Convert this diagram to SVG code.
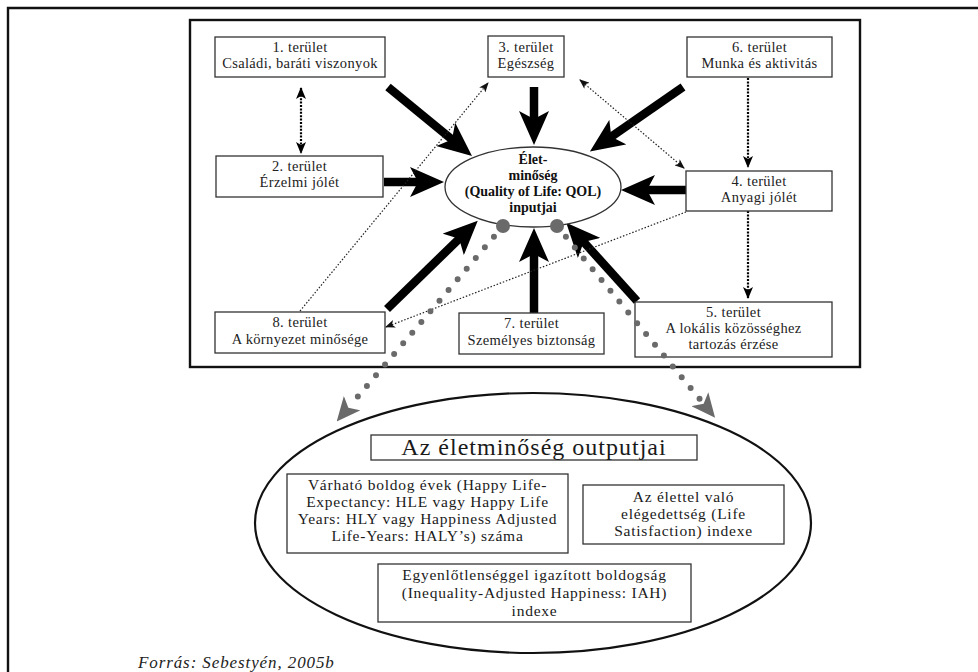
<svg xmlns="http://www.w3.org/2000/svg" width="978" height="672" viewBox="0 0 978 672">
<defs>
<style>
.frame{fill:none;stroke:#111;stroke-width:2.4}
.box{fill:#fff;stroke:#333;stroke-width:1.3}
.t{font-family:"Liberation Serif",serif;font-size:14.5px;fill:#222;text-anchor:middle;letter-spacing:0.35px}
.tb{font-family:"Liberation Serif",serif;font-size:14px;font-weight:bold;fill:#111;text-anchor:middle}
.o{font-family:"Liberation Serif",serif;font-size:15.5px;fill:#1a1a1a;text-anchor:middle;letter-spacing:0.75px}
.thick{stroke:#000;stroke-width:8.5;fill:none;marker-end:url(#mThick)}
.vdot{stroke:#000;stroke-width:2.2;stroke-dasharray:2 1.4;fill:none}
.tdot{stroke:#222;stroke-width:1.2;stroke-dasharray:1.5 1.8;fill:none}
.gdot{stroke:#6a6a6a;stroke-width:6;stroke-dasharray:0 14;stroke-linecap:round;fill:none;marker-end:url(#mGray)}
</style>
<marker id="mThick" viewBox="0 0 34 30" refX="12" refY="15" markerWidth="34" markerHeight="30" markerUnits="userSpaceOnUse" orient="auto"><path d="M0,0 L34,15 L0,30 L8,15 Z" fill="#000"/></marker>
<marker id="mV" viewBox="0 0 12 10" refX="11" refY="5" markerWidth="12" markerHeight="10" markerUnits="userSpaceOnUse" orient="auto-start-reverse"><path d="M0,0 L12,5 L0,10 L3,5 Z" fill="#000"/></marker>
<marker id="mT" viewBox="0 0 10 8" refX="9" refY="4" markerWidth="10" markerHeight="8" markerUnits="userSpaceOnUse" orient="auto-start-reverse"><path d="M0,0 L10,4 L0,8 L2.5,4 Z" fill="#111"/></marker>
<marker id="mGray" viewBox="0 0 24 22" refX="5" refY="11" markerWidth="24" markerHeight="22" markerUnits="userSpaceOnUse" orient="auto"><path d="M0,0 L24,11 L0,22 L6,11 Z" fill="#6a6a6a"/></marker>
</defs>
<rect width="978" height="672" fill="#fff"/>
<path class="frame" d="M8,672 V8 H978"/>
<rect class="frame" x="190" y="20" width="670" height="347" stroke-width="2.2"/>

<g id="connectors-under">
<line class="thick" x1="388" y1="87" x2="455" y2="142"/>
<line class="thick" x1="534" y1="87" x2="534" y2="123"/>
<line class="thick" x1="683" y1="87" x2="608" y2="139"/>
<line class="thick" x1="384" y1="182" x2="422" y2="182"/>
<line class="thick" x1="686" y1="190" x2="643" y2="190"/>
<line class="thick" x1="387" y1="309" x2="462" y2="236"/>
<line class="thick" x1="534" y1="313" x2="534" y2="250"/>
<line class="thick" x1="637" y1="301" x2="581" y2="239"/>
<line class="vdot" x1="301" y1="88" x2="301" y2="153" marker-start="url(#mV)" marker-end="url(#mV)"/>
<line class="vdot" x1="748" y1="78" x2="748" y2="167" marker-end="url(#mV)"/>
<line class="vdot" x1="748" y1="211" x2="748" y2="298" marker-end="url(#mV)"/>
<line class="tdot" x1="300" y1="311" x2="488" y2="83" marker-end="url(#mT)"/>
<line class="tdot" x1="580" y1="80" x2="684" y2="168" marker-start="url(#mT)" marker-end="url(#mT)"/>
<line class="tdot" x1="686" y1="212" x2="386" y2="327" marker-end="url(#mT)"/>
</g>

<g id="n1"><rect class="box" x="215" y="37" width="170" height="40"/><text class="t" x="300" y="52">1. terület</text><text class="t" x="300" y="68">Családi, baráti viszonyok</text></g>
<g id="n3"><rect class="box" x="488" y="36" width="76" height="41"/><text class="t" x="526" y="52">3. terület</text><text class="t" x="526" y="68">Egészség</text></g>
<g id="n6"><rect class="box" x="687" y="37" width="145" height="40"/><text class="t" x="759.5" y="52">6. terület</text><text class="t" x="759.5" y="68">Munka és aktivitás</text></g>
<g id="n2"><rect class="box" x="216" y="156" width="167" height="41"/><text class="t" x="299.5" y="171">2. terület</text><text class="t" x="299.5" y="187">Érzelmi jólét</text></g>
<g id="qol"><ellipse cx="533" cy="187" rx="88" ry="40" fill="#fff" stroke="#333" stroke-width="1.3"/>
<text class="tb" x="533" y="164">Élet-</text><text class="tb" x="533" y="180">minőség</text><text class="tb" x="533" y="196">(Quality of Life: QOL)</text><text class="tb" x="533" y="212">inputjai</text></g>
<g id="n4"><rect class="box" x="686" y="171" width="146" height="40"/><text class="t" x="759" y="186">4. terület</text><text class="t" x="759" y="202">Anyagi jólét</text></g>
<g id="n8"><rect class="box" x="215" y="312" width="170" height="41"/><text class="t" x="300" y="327">8. terület</text><text class="t" x="300" y="344">A környezet minősége</text></g>
<g id="n7"><rect class="box" x="459" y="313" width="145" height="41"/><text class="t" x="531.5" y="328">7. terület</text><text class="t" x="531.5" y="345">Személyes biztonság</text></g>
<g id="n5"><rect class="box" x="635" y="302" width="197" height="55"/><text class="t" x="733.5" y="317">5. terület</text><text class="t" x="733.5" y="333">A lokális közösséghez</text><text class="t" x="733.5" y="349">tartozás érzése</text></g>

<g id="outputs">
<ellipse cx="533" cy="523" rx="278" ry="130" fill="none" stroke="#111" stroke-width="2.2"/>
<g id="out-title"><rect class="box" x="371" y="435" width="326" height="25"/><text x="534" y="455" font-family="'Liberation Serif',serif" font-size="24" fill="#1a1a1a" text-anchor="middle" letter-spacing="1">Az életminőség outputjai</text></g>
<g id="out-hle"><rect class="box" x="287" y="474" width="281" height="79"/>
<text class="o" x="427.5" y="490">Várható boldog évek (Happy Life-</text>
<text class="o" x="427.5" y="507">Expectancy: HLE vagy Happy Life</text>
<text class="o" x="427.5" y="524">Years: HLY vagy Happiness Adjusted</text>
<text class="o" x="427.5" y="541">Life-Years: HALY’s) száma</text></g>
<g id="out-ls"><rect class="box" x="583" y="485" width="201" height="59"/>
<text class="o" x="683.5" y="502">Az élettel való</text>
<text class="o" x="683.5" y="519">elégedettség (Life</text>
<text class="o" x="683.5" y="536">Satisfaction) indexe</text></g>
<g id="out-iah"><rect class="box" x="378" y="564" width="313" height="58"/>
<text class="o" x="534.5" y="580">Egyenlőtlenséggel igazított boldogság</text>
<text class="o" x="534.5" y="598">(Inequality-Adjusted Happiness: IAH)</text>
<text class="o" x="534.5" y="616">indexe</text></g>
</g>

<g id="connectors-output">
<circle cx="503" cy="226" r="7" fill="#6a6a6a"/>
<circle cx="557" cy="226" r="7" fill="#6a6a6a"/>
<line class="gdot" x1="503" y1="226" x2="349" y2="407"/>
<line class="gdot" x1="557" y1="226" x2="703" y2="403"/>
</g>

<text x="138" y="668" font-family="'Liberation Serif',serif" font-size="17" font-style="italic" fill="#222" letter-spacing="0.9">Forrás: Sebestyén, 2005b</text>
</svg>
